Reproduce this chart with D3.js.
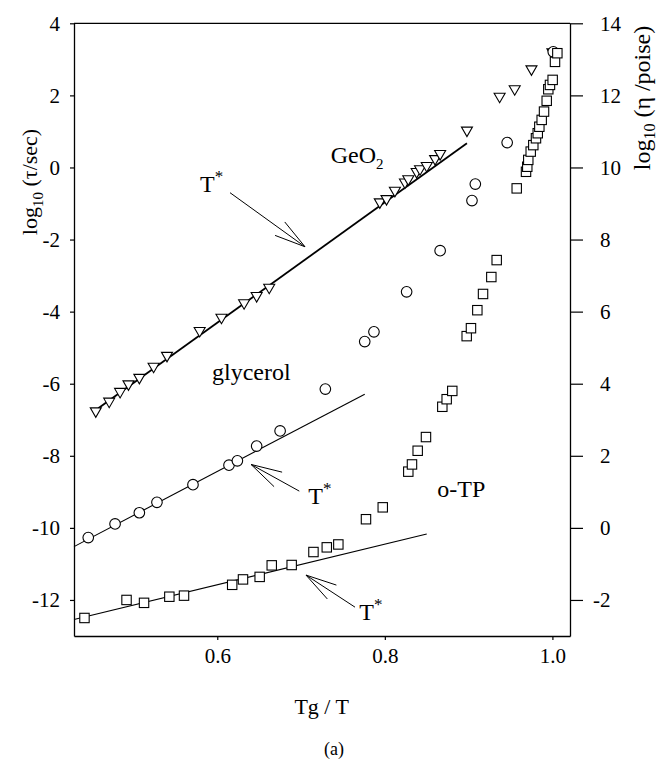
<!DOCTYPE html>
<html>
<head>
<meta charset="utf-8">
<script src="https://cdnjs.cloudflare.com/ajax/libs/d3/7.8.5/d3.min.js"></script>
<style>
body { margin: 0; background: #fff; }
text { font-family: "Liberation Serif", "Times New Roman", Times, serif; fill: #000; }
</style>
</head>
<body>
<div id="chart"></div>
<script>
// GeO2 (down triangles)
var geoX = [0.455, 0.471, 0.484, 0.494, 0.507, 0.524, 0.540, 0.579, 0.605, 0.632, 0.647, 0.662,
            0.794, 0.802, 0.812, 0.824, 0.828, 0.838, 0.842, 0.850, 0.860, 0.866, 0.898, 0.937, 0.955, 0.975, 1.000];
var geoY = [-6.79, -6.52, -6.25, -6.04, -5.86, -5.55, -5.25, -4.56, -4.19, -3.79, -3.59, -3.36,
            -0.99, -0.90, -0.67, -0.44, -0.35, -0.15, -0.07, 0.02, 0.21, 0.35, 1.00, 1.94, 2.15, 2.70, 3.17];
// glycerol (circles)
var glyX = [0.446, 0.478, 0.507, 0.528, 0.571, 0.614, 0.624, 0.647, 0.675, 0.729, 0.776, 0.787, 0.826, 0.866, 0.904, 0.908, 0.946, 1.001];
var glyY = [-10.27, -9.89, -9.58, -9.29, -8.80, -8.26, -8.14, -7.73, -7.31, -6.15, -4.83, -4.56, -3.45, -2.31, -0.92, -0.46, 0.69, 3.21];
// o-TP (squares)
var otpX = [0.4415, 0.4917, 0.5126, 0.5428, 0.5603, 0.6178, 0.6307, 0.6506, 0.665, 0.6888, 0.7148, 0.7307, 0.7445,
            0.7775, 0.7975, 0.828, 0.8324, 0.8392, 0.8491, 0.8686, 0.8738, 0.8805, 0.8977, 0.9028, 0.9104, 0.9172,
            0.9271, 0.9335, 0.9574, 0.9685, 0.970, 0.9712, 0.9741, 0.9772, 0.9804, 0.9825, 0.9844, 0.9872, 0.990,
            0.9932, 0.9951, 0.9971, 1.0003, 1.0031, 1.0059];
var otpY = [-12.50, -12.00, -12.08, -11.91, -11.88, -11.58, -11.43, -11.36, -11.04, -11.03, -10.67, -10.54, -10.46,
            -9.76, -9.43, -8.44, -8.24, -7.86, -7.48, -6.64, -6.43, -6.20, -4.68, -4.46, -3.96, -3.51,
            -3.04, -2.57, -0.58, -0.12, 0.02, 0.21, 0.44, 0.62, 0.81, 0.95, 1.13, 1.32, 1.55,
            1.85, 2.17, 2.29, 2.43, 2.93, 3.17];

// straight fits (end points)
var geoFitX = [0.458, 0.898], geoFitY = [-6.68, 0.67];
var glyFitX = [0.429, 0.776], glyFitY = [-10.52, -6.29];
var otpFitX = [0.429, 0.850], otpFitY = [-12.54, -10.17];

// ticks
var xTicks = [0.6, 0.8, 1.0];
var yTicks = [-12, -10, -8, -6, -4, -2, 0, 2, 4];
var y2Ticks = [-2, 0, 2, 4, 6, 8, 10, 12, 14];

// labels and T* arrows (data coords)
var labels = [
  {t: "GeO", sub: "2", x: 0.7354, y: 0.13},
  {t: "glycerol", x: 0.5937, y: -5.90},
  {t: "o-TP", x: 0.8626, y: -9.15}
];
var tstar = [
  {lx: 0.5794, ly: -0.68, tailX: 0.6152, tailY: -0.70, tipX: 0.7047, tipY: -2.20},
  {lx: 0.7087, ly: -9.34, tailX: 0.6979, tailY: -8.98, tipX: 0.6403, tipY: -8.24},
  {lx: 0.7695, ly: -12.56, tailX: 0.7644, tailY: -12.20, tipX: 0.7059, tipY: -11.31}
];

var W = 658, H = 759;
var mLeft = 74, mRight = 570, mTop = 23.3, mBottom = 636;

var svg = d3.select("#chart").append("svg")
  .attr("width", W).attr("height", H);

var x = d3.scaleLinear().domain([0.429, 1.021]).range([mLeft, mRight]);
var y = d3.scaleLinear().domain([-13, 4]).range([mBottom, mTop]);
var y2 = d3.scaleLinear().domain([-3, 14]).range([mBottom, mTop]);

var fmt = function(d) { return String(d); };

// frame top
svg.append("line")
  .attr("x1", mLeft).attr("x2", mRight).attr("y1", mTop).attr("y2", mTop)
  .attr("stroke", "#000").attr("stroke-width", 1.3);

var gx = svg.append("g")
  .attr("transform", "translate(0," + mBottom + ")")
  .call(d3.axisBottom(x).tickValues(xTicks).tickSize(4).tickSizeOuter(0).tickPadding(8).tickFormat(d3.format(".1f")));

var gy = svg.append("g")
  .attr("transform", "translate(" + mLeft + ",0)")
  .call(d3.axisLeft(y).tickValues(yTicks).tickSize(4).tickSizeOuter(0).tickPadding(10).tickFormat(fmt));

var gy2 = svg.append("g")
  .attr("transform", "translate(" + mRight + ",0)")
  .call(d3.axisRight(y2).tickValues(y2Ticks).tickSize(13).tickSizeOuter(0).tickPadding(17).tickFormat(fmt));

[gx, gy, gy2].forEach(function(g) {
  g.attr("font-family", null).attr("font-size", null);
  g.select(".domain").attr("stroke", "#000").attr("stroke-width", 1.3);
  g.selectAll(".tick line").attr("stroke", "#000").attr("stroke-width", 1.2);
  g.selectAll(".tick text").style("font-size", "21px").attr("fill", "#000");
});
// negative right labels hang the minus to the left
gy2.selectAll(".tick text").attr("dx", function(d) { return d < 0 ? -7 : 0; });

// fit lines
function fitLine(xs, ys, w) {
  svg.append("line")
    .attr("x1", x(xs[0])).attr("y1", y(ys[0]))
    .attr("x2", x(xs[1])).attr("y2", y(ys[1]))
    .attr("stroke", "#000").attr("stroke-width", w);
}
fitLine(geoFitX, geoFitY, 1.8);
fitLine(glyFitX, glyFitY, 1.1);
fitLine(otpFitX, otpFitY, 1.1);

// markers
svg.append("g").selectAll("path").data(d3.range(geoX.length)).enter().append("path")
  .attr("d", "M-5.5,-4.3L5.5,-4.3L0,5.2Z")
  .attr("transform", function(i) { return "translate(" + x(geoX[i]) + "," + y(geoY[i]) + ")"; })
  .attr("fill", "#fff").attr("stroke", "#000").attr("stroke-width", 1.1);

svg.append("g").selectAll("circle").data(d3.range(glyX.length)).enter().append("circle")
  .attr("cx", function(i) { return x(glyX[i]); })
  .attr("cy", function(i) { return y(glyY[i]); })
  .attr("r", 5.3)
  .attr("fill", "#fff").attr("stroke", "#000").attr("stroke-width", 1.1);

svg.append("g").selectAll("rect").data(d3.range(otpX.length)).enter().append("rect")
  .attr("x", function(i) { return x(otpX[i]) - 4.7; })
  .attr("y", function(i) { return y(otpY[i]) - 4.7; })
  .attr("width", 9.4).attr("height", 9.4)
  .attr("fill", "#fff").attr("stroke", "#000").attr("stroke-width", 1.1);

// curve labels
labels.forEach(function(l) {
  var t = svg.append("text").attr("x", x(l.x)).attr("y", y(l.y)).style("font-size", "24px").text(l.t);
  if (l.sub) t.append("tspan").attr("dy", 6).style("font-size", "15px").text(l.sub);
});

// T* arrows with open heads
tstar.forEach(function(a) {
  var t = svg.append("text").attr("x", x(a.lx)).attr("y", y(a.ly)).style("font-size", "24px").text("T");
  t.append("tspan").attr("dy", -10).style("font-size", "17px").text("*");
  var x0 = x(a.tailX), y0 = y(a.tailY), x1 = x(a.tipX), y1 = y(a.tipY);
  svg.append("line").attr("x1", x0).attr("y1", y0).attr("x2", x1).attr("y2", y1)
    .attr("stroke", "#000").attr("stroke-width", 1);
  var ang = Math.atan2(y0 - y1, x0 - x1), len = 32, spread = 15 * Math.PI / 180;
  [-spread, spread].forEach(function(s) {
    svg.append("line").attr("x1", x1).attr("y1", y1)
      .attr("x2", x1 + len * Math.cos(ang + s)).attr("y2", y1 + len * Math.sin(ang + s))
      .attr("stroke", "#000").attr("stroke-width", 1);
  });
});

// axis titles
svg.append("text").attr("x", 321.7).attr("y", 714).attr("text-anchor", "middle")
  .style("font-size", "22px").text("Tg / T");
svg.append("text").attr("x", 334).attr("y", 755).attr("text-anchor", "middle")
  .style("font-size", "18px").text("(a)");

var yl = svg.append("text").attr("transform", "translate(37,182) rotate(-90)")
  .attr("text-anchor", "middle").style("font-size", "22px");
yl.append("tspan").text("log");
yl.append("tspan").attr("dy", 6).style("font-size", "15px").text("10");
yl.append("tspan").attr("dy", -6).text(" (\u03c4/sec)");

var yr = svg.append("text").attr("transform", "translate(650,98) rotate(-90)")
  .attr("text-anchor", "middle").style("font-size", "24px");
yr.append("tspan").text("log");
yr.append("tspan").attr("dy", 5).style("font-size", "16px").text("10");
yr.append("tspan").attr("dy", -5).text(" (\u03b7 /poise)");
</script>
</body>
</html>
